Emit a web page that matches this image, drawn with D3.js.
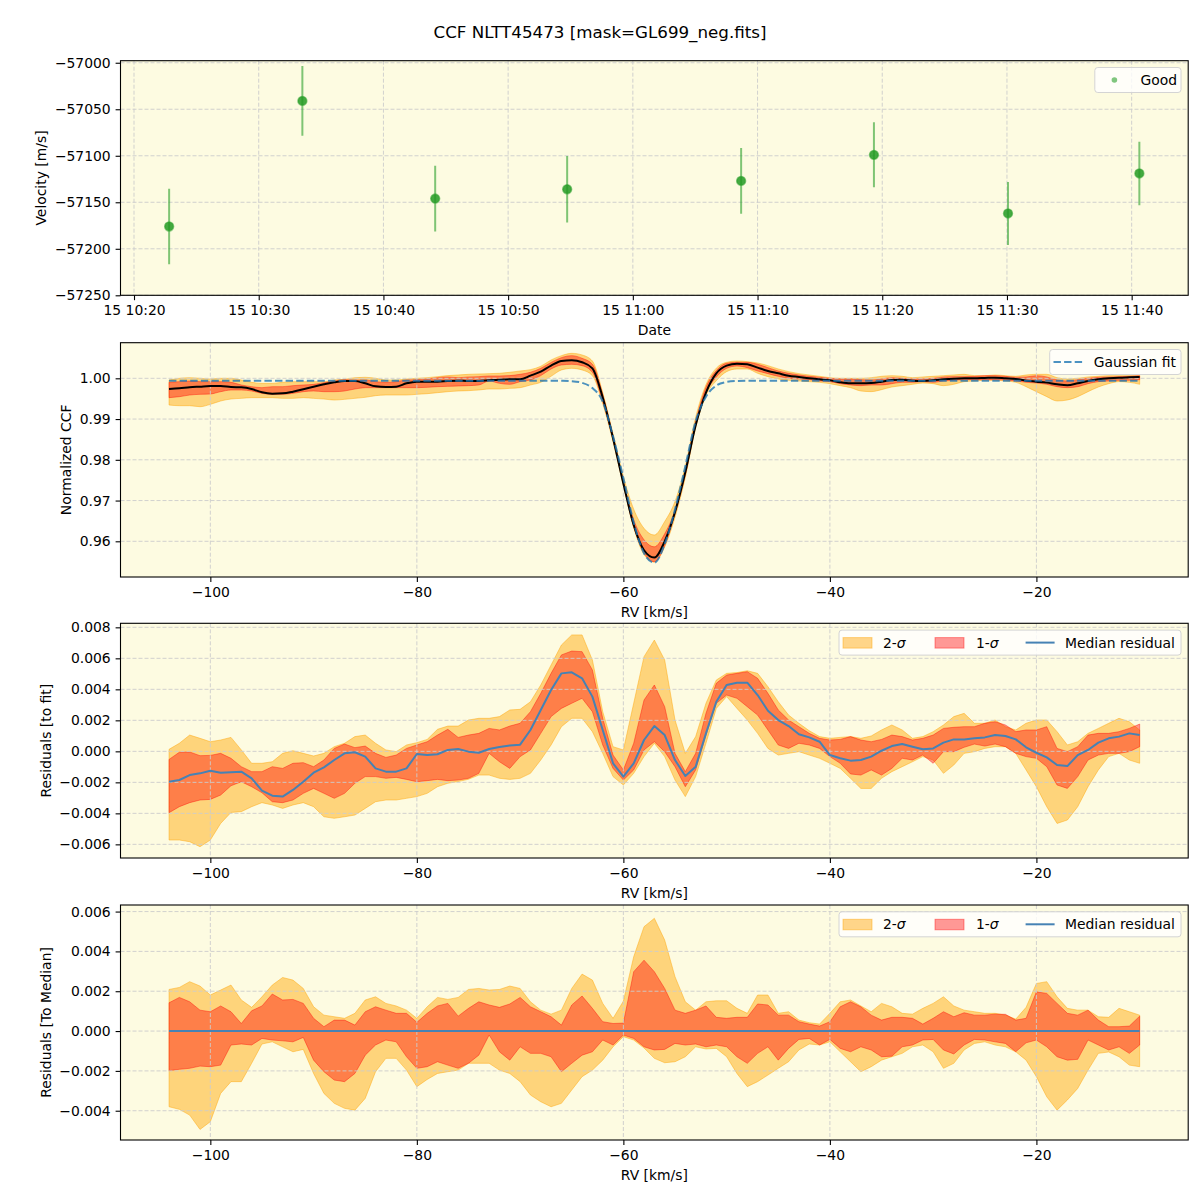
<!DOCTYPE html>
<html><head><meta charset="utf-8">
<script src="https://cdn.jsdelivr.net/npm/d3@7"></script>
<style>body{margin:0;background:#fff}svg{display:block;font-family:"DejaVu Sans",sans-serif}</style>
</head><body><svg id="chart" width="1200" height="1200"></svg>
<script>
// ---------------- DATA ----------------
const chartTitle = "CCF NLTT45473 [mask=GL699_neg.fits]";

// Panel 1: RV time series
const obsTimes = ["2024-05-15T10:22:49Z","2024-05-15T10:33:30Z","2024-05-15T10:44:09Z","2024-05-15T10:54:44Z",
                  "2024-05-15T11:08:41Z","2024-05-15T11:19:20Z","2024-05-15T11:30:05Z","2024-05-15T11:40:37Z"];
const obsVelocity = [-57176, -57041, -57146, -57136, -57127, -57099, -57162, -57119];
const obsError = [40.5, 37.5, 35.3, 35.7, 35.4, 34.9, 33.9, 34.1];
const timeTicks = ["2024-05-15T10:20:00Z","2024-05-15T10:30:00Z","2024-05-15T10:40:00Z","2024-05-15T10:50:00Z",
                   "2024-05-15T11:00:00Z","2024-05-15T11:10:00Z","2024-05-15T11:20:00Z","2024-05-15T11:30:00Z","2024-05-15T11:40:00Z"];
const timeDomain = ["2024-05-15T10:18:55Z","2024-05-15T11:44:32Z"];
const velTicks = [-57250,-57200,-57150,-57100,-57050,-57000];
const velDomain = [-57250, -56997.8];

// RV grid (km/s)
const rv = [-104,-103,-102,-101,-100,-99,-98,-97,-96,-95,-94,-93,-92,-91,-90,-89,-88,-87,-86,-85,
  -84,-83,-82,-81,-80,-79,-78,-77,-76,-75,-74,-73,-72,-71,-70,-69,-68,-67,-66,-65,
  -64,-63,-62,-61,-60,-59,-58,-57,-56,-55,-54,-53,-52,-51,-50,-49,-48,-47,-46,-45,
  -44,-43,-42,-41,-40,-39,-38,-37,-36,-35,-34,-33,-32,-31,-30,-29,-28,-27,-26,-25,
  -24,-23,-22,-21,-20,-19,-18,-17,-16,-15,-14,-13,-12,-11,-10];
const rvTicks = [-100,-80,-60,-40,-20];
const rvDomain = [-108.7, -5.3];

// Panel 2: normalized CCF
const ccfMedian = [0.99738,0.99754,0.99779,0.99795,0.99811,0.99811,0.99787,0.99779,0.99738,0.99656,
  0.99623,0.99631,0.99672,0.99730,0.99795,0.99852,0.99902,0.99934,0.99934,0.99877,
  0.99803,0.99787,0.99795,0.99877,0.99918,0.99918,0.99918,0.99934,0.99943,0.99934,
  0.99934,0.99951,0.99967,0.99975,0.99975,1.00066,1.00164,1.00310,1.00425,1.00442,
  1.00393,1.00245,0.99530,0.98530,0.97420,0.96400,0.95780,0.95600,0.96000,0.96720,
  0.97700,0.98850,0.99650,1.00120,1.00311,1.00360,1.00344,1.00262,1.00180,1.00123,
  1.00065,1.00033,1.00000,0.99975,0.99951,0.99902,0.99877,0.99877,0.99885,0.99918,
  0.99959,0.99967,0.99943,0.99935,0.99951,0.99975,0.99992,1.00000,1.00000,1.00008,
  1.00016,1.00000,0.99984,0.99943,0.99918,0.99894,0.99853,0.99828,0.99877,0.99935,
  0.99975,1.00000,1.00016,1.00025,1.00033];
const ccf1Hi = [0.99902,0.99918,0.99934,0.99918,0.99918,0.99918,0.99902,0.99836,0.99795,0.99770,
  0.99795,0.99795,0.99820,0.99836,0.99852,0.99893,0.99934,0.99967,0.99959,0.99959,
  0.99918,0.99902,0.99918,0.99959,0.99967,0.99984,1.00016,1.00033,1.00016,1.00033,
  1.00041,1.00057,1.00057,1.00066,1.00098,1.00148,1.00246,1.00390,1.00507,1.00556,
  1.00491,1.00344,0.99605,0.98583,0.97463,0.96529,0.96038,0.95865,0.96183,0.96763,
  0.97728,0.98936,0.99779,1.00190,1.00368,1.00393,1.00393,1.00344,1.00262,1.00180,
  1.00123,1.00082,1.00049,1.00025,1.00000,0.99984,0.99984,0.99967,0.99959,0.99984,
  1.00016,1.00000,0.99984,0.99984,1.00000,1.00033,1.00041,1.00041,1.00049,1.00065,
  1.00065,1.00049,1.00025,1.00033,1.00065,1.00033,0.99959,0.99935,0.99967,1.00000,
  1.00025,1.00033,1.00041,1.00049,1.00065];
const ccf1Lo = [0.99525,0.99549,0.99590,0.99607,0.99615,0.99672,0.99713,0.99713,0.99689,0.99631,
  0.99607,0.99607,0.99631,0.99672,0.99689,0.99672,0.99672,0.99689,0.99738,0.99770,
  0.99770,0.99770,0.99770,0.99770,0.99770,0.99779,0.99795,0.99803,0.99811,0.99820,
  0.99836,0.99934,0.99877,0.99852,0.99918,0.99959,1.00066,1.00230,1.00327,1.00344,
  1.00311,1.00147,0.99433,0.98497,0.97398,0.96357,0.95716,0.95499,0.95893,0.96677,
  0.97631,0.98829,0.99639,1.00030,1.00245,1.00303,1.00262,1.00180,1.00115,1.00049,
  1.00000,0.99984,0.99967,0.99935,0.99918,0.99869,0.99836,0.99820,0.99836,0.99836,
  0.99869,0.99902,0.99902,0.99918,0.99902,0.99935,0.99951,0.99967,0.99967,0.99967,
  0.99967,0.99959,0.99935,0.99902,0.99885,0.99853,0.99795,0.99771,0.99795,0.99869,
  0.99918,0.99935,0.99951,0.99951,0.99967];
const ccf2Hi = [0.99959,1.00000,1.00016,1.00000,0.99984,1.00000,1.00000,0.99959,0.99902,0.99877,
  0.99877,0.99902,0.99918,0.99918,0.99918,0.99918,0.99959,0.99975,1.00016,1.00025,
  1.00000,0.99959,0.99959,0.99984,1.00000,1.00016,1.00041,1.00066,1.00082,1.00098,
  1.00107,1.00115,1.00123,1.00148,1.00180,1.00213,1.00295,1.00450,1.00556,1.00613,
  1.00573,1.00425,0.99648,0.98637,0.97592,0.96787,0.96318,0.96155,0.96484,0.96978,
  0.97846,0.99044,0.99844,1.00250,1.00393,1.00425,1.00409,1.00376,1.00311,1.00229,
  1.00164,1.00115,1.00082,1.00049,1.00016,1.00000,1.00000,1.00000,1.00016,1.00049,
  1.00065,1.00049,1.00016,1.00033,1.00049,1.00065,1.00082,1.00098,1.00065,1.00065,
  1.00082,1.00065,1.00049,1.00082,1.00098,1.00098,1.00016,0.99984,1.00000,1.00033,
  1.00049,1.00065,1.00065,1.00065,1.00065];
const ccf2Lo = [0.99344,0.99328,0.99328,0.99303,0.99361,0.99443,0.99492,0.99508,0.99525,0.99525,
  0.99525,0.99508,0.99508,0.99525,0.99508,0.99492,0.99467,0.99484,0.99508,0.99533,
  0.99574,0.99590,0.99590,0.99590,0.99607,0.99623,0.99648,0.99672,0.99689,0.99697,
  0.99713,0.99738,0.99738,0.99754,0.99770,0.99836,0.99902,1.00050,1.00205,1.00245,
  1.00205,1.00065,0.99379,0.98444,0.97366,0.96335,0.95673,0.95489,0.95861,0.96591,
  0.97567,0.98786,0.99586,0.99940,1.00164,1.00229,1.00229,1.00123,1.00041,0.99984,
  0.99951,0.99935,0.99918,0.99902,0.99869,0.99820,0.99771,0.99689,0.99673,0.99722,
  0.99787,0.99820,0.99853,0.99885,0.99869,0.99820,0.99853,0.99918,0.99935,0.99951,
  0.99951,0.99935,0.99902,0.99795,0.99673,0.99550,0.99444,0.99468,0.99550,0.99673,
  0.99787,0.99869,0.99918,0.99902,0.99853];
const gaussFit = [0.99943,0.99943,0.99943,0.99943,0.99943,0.99943,0.99943,0.99943,0.99943,0.99943,
  0.99943,0.99943,0.99943,0.99943,0.99943,0.99943,0.99943,0.99943,0.99943,0.99943,
  0.99943,0.99943,0.99943,0.99943,0.99943,0.99943,0.99943,0.99943,0.99943,0.99943,
  0.99943,0.99943,0.99943,0.99943,0.99943,0.99943,0.99943,0.99943,0.99940,0.99930,
  0.99890,0.99760,0.99430,0.98575,0.97552,0.96464,0.95708,0.95476,0.95932,0.96782,
  0.97844,0.98945,0.99550,0.99820,0.99910,0.99935,0.99941,0.99943,0.99943,0.99943,
  0.99943,0.99943,0.99943,0.99943,0.99943,0.99943,0.99943,0.99943,0.99943,0.99943,
  0.99943,0.99943,0.99943,0.99943,0.99943,0.99943,0.99943,0.99943,0.99943,0.99943,
  0.99943,0.99943,0.99943,0.99943,0.99943,0.99943,0.99943,0.99943,0.99943,0.99943,
  0.99943,0.99943,0.99943,0.99943,0.99943];
const ccfTicks = [0.96,0.97,0.98,0.99,1.00];
const ccfDomain = [0.95124, 1.00874];

// Panel 3: residuals to fit
const resMedian = [-0.00196,-0.00185,-0.00153,-0.00142,-0.00125,-0.00138,-0.00135,-0.00131,-0.00174,-0.00254,
  -0.00286,-0.00292,-0.00249,-0.00196,-0.00138,-0.00103,-0.00056,-0.00013,-0.00006,-0.00034,
  -0.00110,-0.00131,-0.00131,-0.00110,-0.00017,-0.00024,-0.00019,0.00009,0.00015,-0.00002,
  -0.00009,0.00015,0.00028,0.00037,0.00043,0.00138,0.00267,0.00396,0.00503,0.00510,
  0.00471,0.00353,0.00138,-0.00077,-0.00163,-0.00077,0.00073,0.00163,0.00105,-0.00056,
  -0.00159,-0.00099,0.00116,0.00320,0.00428,0.00443,0.00443,0.00363,0.00262,0.00202,
  0.00163,0.00110,0.00090,0.00062,-0.00024,-0.00045,-0.00060,-0.00056,-0.00034,0.00004,
  0.00034,0.00047,0.00030,0.00013,0.00019,0.00056,0.00077,0.00077,0.00084,0.00090,
  0.00105,0.00099,0.00077,0.00026,-0.00009,-0.00039,-0.00088,-0.00095,-0.00024,0.00009,
  0.00056,0.00084,0.00095,0.00116,0.00105];
const res1Hi = [-0.00052,-0.00006,-0.00004,-0.00028,-0.00026,-0.00013,-0.00045,-0.00099,-0.00131,-0.00131,
  -0.00099,-0.00110,-0.00077,-0.00073,-0.00099,-0.00056,0.00019,0.00047,0.00024,0.00034,
  -0.00013,-0.00039,-0.00024,0.00019,0.00041,0.00062,0.00105,0.00142,0.00090,0.00105,
  0.00116,0.00148,0.00138,0.00163,0.00181,0.00256,0.00374,0.00503,0.00622,0.00647,
  0.00643,0.00525,0.00213,-0.00024,-0.00120,0.00052,0.00331,0.00428,0.00288,-0.00013,
  -0.00131,-0.00013,0.00245,0.00439,0.00492,0.00503,0.00514,0.00471,0.00374,0.00267,
  0.00202,0.00159,0.00116,0.00084,0.00073,0.00077,0.00095,0.00073,0.00062,0.00077,
  0.00105,0.00095,0.00073,0.00084,0.00105,0.00148,0.00155,0.00159,0.00159,0.00181,
  0.00191,0.00170,0.00127,0.00138,0.00138,0.00159,0.00019,-0.00002,0.00030,0.00105,
  0.00116,0.00116,0.00127,0.00148,0.00176];
const res1Lo = [-0.00396,-0.00357,-0.00331,-0.00314,-0.00310,-0.00282,-0.00222,-0.00196,-0.00228,-0.00267,
  -0.00325,-0.00331,-0.00314,-0.00271,-0.00239,-0.00271,-0.00303,-0.00271,-0.00206,-0.00163,
  -0.00163,-0.00174,-0.00168,-0.00181,-0.00196,-0.00189,-0.00181,-0.00189,-0.00185,-0.00174,
  -0.00142,-0.00013,-0.00067,-0.00110,-0.00034,0.00009,0.00116,0.00224,0.00277,0.00310,
  0.00342,0.00256,0.00041,-0.00110,-0.00185,-0.00120,0.00009,0.00062,-0.00002,-0.00099,
  -0.00228,-0.00120,0.00105,0.00310,0.00363,0.00342,0.00288,0.00234,0.00138,0.00041,
  0.00019,0.00052,0.00041,0.00019,-0.00034,-0.00077,-0.00146,-0.00153,-0.00120,-0.00153,
  -0.00110,-0.00045,-0.00056,-0.00024,-0.00077,-0.00002,-0.00002,0.00026,0.00047,0.00034,
  0.00047,0.00030,-0.00013,-0.00034,-0.00045,-0.00099,-0.00217,-0.00239,-0.00163,-0.00056,
  -0.00024,-0.00013,-0.00013,-0.00002,0.00030];
const res2Hi = [0.00013,0.00052,0.00105,0.00084,0.00062,0.00073,0.00090,0.00009,-0.00077,-0.00077,
  -0.00067,-0.00013,0.00004,-0.00013,-0.00030,-0.00013,0.00030,0.00052,0.00095,0.00105,
  0.00052,0.00009,-0.00002,0.00041,0.00056,0.00077,0.00142,0.00163,0.00163,0.00202,
  0.00213,0.00213,0.00224,0.00267,0.00271,0.00320,0.00428,0.00557,0.00686,0.00751,
  0.00751,0.00589,0.00256,0.00030,0.00009,0.00310,0.00611,0.00718,0.00589,0.00202,
  -0.00013,0.00095,0.00310,0.00460,0.00503,0.00508,0.00520,0.00503,0.00417,0.00320,
  0.00234,0.00181,0.00133,0.00095,0.00084,0.00090,0.00095,0.00084,0.00099,0.00138,
  0.00170,0.00138,0.00084,0.00095,0.00127,0.00170,0.00224,0.00245,0.00181,0.00181,
  0.00202,0.00159,0.00138,0.00181,0.00202,0.00202,0.00127,0.00041,0.00062,0.00116,
  0.00148,0.00181,0.00213,0.00191,0.00138];
const res2Lo = [-0.00572,-0.00572,-0.00583,-0.00615,-0.00572,-0.00465,-0.00394,-0.00389,-0.00357,-0.00331,
  -0.00346,-0.00368,-0.00346,-0.00331,-0.00357,-0.00422,-0.00432,-0.00422,-0.00411,-0.00368,
  -0.00325,-0.00314,-0.00314,-0.00303,-0.00292,-0.00271,-0.00228,-0.00206,-0.00195,-0.00180,
  -0.00153,-0.00153,-0.00174,-0.00181,-0.00174,-0.00142,-0.00056,0.00041,0.00159,0.00213,
  0.00213,0.00127,-0.00013,-0.00163,-0.00217,-0.00142,-0.00034,0.00052,-0.00034,-0.00185,
  -0.00292,-0.00163,0.00052,0.00277,0.00353,0.00277,0.00202,0.00116,0.00019,-0.00024,
  -0.00013,-0.00002,-0.00024,-0.00045,-0.00077,-0.00110,-0.00174,-0.00239,-0.00239,-0.00174,
  -0.00131,-0.00099,-0.00067,-0.00034,-0.00056,-0.00142,-0.00088,-0.00013,-0.00002,0.00019,
  0.00030,0.00030,-0.00013,-0.00120,-0.00228,-0.00357,-0.00465,-0.00443,-0.00357,-0.00228,
  -0.00120,-0.00034,-0.00013,-0.00056,-0.00077];
const resTicks = [-0.006,-0.004,-0.002,0,0.002,0.004,0.006,0.008];
const resDomain = [-0.00688, 0.00826];

// Panel 4: residuals to median
const medMedian = [0,0,0,0,0,0,0,0,0,0, 0,0,0,0,0,0,0,0,0,0, 0,0,0,0,0,0,0,0,0,0,
  0,0,0,0,0,0,0,0,0,0, 0,0,0,0,0,0,0,0,0,0, 0,0,0,0,0,0,0,0,0,0,
  0,0,0,0,0,0,0,0,0,0, 0,0,0,0,0,0,0,0,0,0, 0,0,0,0,0,0,0,0,0,0, 0,0,0,0,0];
const med1Hi = [0.00142,0.00169,0.00147,0.00105,0.00097,0.00126,0.00097,0.00038,0.00102,0.00126,
  0.00186,0.00156,0.00159,0.00139,0.00064,0.00022,0.00055,0.00055,0.00030,0.00097,
  0.00122,0.00105,0.00089,0.00089,0.00044,0.00089,0.00126,0.00139,0.00075,0.00114,
  0.00147,0.00131,0.00119,0.00136,0.00169,0.00122,0.00097,0.00072,0.00030,0.00131,
  0.00176,0.00114,0.00047,0.00038,0.00040,0.00298,0.00356,0.00298,0.00214,0.00105,
  0.00089,0.00105,0.00126,0.00069,0.00064,0.00069,0.00069,0.00136,0.00131,0.00080,
  0.00080,0.00047,0.00035,0.00025,0.00047,0.00122,0.00147,0.00122,0.00080,0.00055,
  0.00069,0.00069,0.00064,0.00035,0.00064,0.00097,0.00072,0.00092,0.00080,0.00080,
  0.00085,0.00084,0.00055,0.00064,0.00197,0.00189,0.00139,0.00089,0.00080,0.00105,
  0.00055,0.00022,0.00022,0.00025,0.00075];
const med1Lo = [-0.00199,-0.00192,-0.00187,-0.00176,-0.00179,-0.00171,-0.00070,-0.00065,-0.00070,-0.00037,
  -0.00045,-0.00049,-0.00054,-0.00032,-0.00146,-0.00204,-0.00246,-0.00254,-0.00213,-0.00121,
  -0.00070,-0.00045,-0.00054,-0.00129,-0.00187,-0.00179,-0.00154,-0.00171,-0.00187,-0.00162,
  -0.00121,-0.00020,-0.00104,-0.00146,-0.00079,-0.00112,-0.00112,-0.00129,-0.00204,-0.00162,
  -0.00121,-0.00104,-0.00045,-0.00070,-0.00020,-0.00037,-0.00079,-0.00095,-0.00092,-0.00062,
  -0.00070,-0.00065,-0.00079,-0.00070,-0.00079,-0.00129,-0.00162,-0.00112,-0.00079,-0.00146,
  -0.00087,-0.00042,-0.00037,-0.00070,-0.00042,-0.00087,-0.00104,-0.00079,-0.00095,-0.00129,
  -0.00126,-0.00079,-0.00070,-0.00045,-0.00042,-0.00095,-0.00115,-0.00070,-0.00042,-0.00045,
  -0.00054,-0.00062,-0.00104,-0.00059,-0.00045,-0.00079,-0.00129,-0.00146,-0.00142,-0.00045,
  -0.00070,-0.00095,-0.00079,-0.00112,-0.00070];
const med2Hi = [0.00209,0.00219,0.00248,0.00226,0.00181,0.00206,0.00231,0.00156,0.00119,0.00172,
  0.00231,0.00269,0.00256,0.00214,0.00122,0.00080,0.00072,0.00064,0.00089,0.00156,
  0.00172,0.00139,0.00126,0.00105,0.00064,0.00122,0.00169,0.00159,0.00169,0.00209,
  0.00214,0.00206,0.00209,0.00226,0.00214,0.00147,0.00105,0.00085,0.00105,0.00214,
  0.00286,0.00256,0.00139,0.00064,0.00150,0.00373,0.00524,0.00566,0.00457,0.00273,
  0.00147,0.00105,0.00147,0.00152,0.00152,0.00114,0.00089,0.00181,0.00181,0.00089,
  0.00097,0.00055,0.00042,0.00035,0.00089,0.00147,0.00156,0.00126,0.00097,0.00139,
  0.00122,0.00089,0.00085,0.00114,0.00139,0.00172,0.00126,0.00105,0.00097,0.00089,
  0.00089,0.00080,0.00060,0.00119,0.00239,0.00248,0.00172,0.00114,0.00105,0.00105,
  0.00072,0.00069,0.00114,0.00097,0.00080];
const med2Lo = [-0.00380,-0.00393,-0.00422,-0.00494,-0.00455,-0.00313,-0.00254,-0.00254,-0.00162,-0.00065,
  -0.00054,-0.00079,-0.00104,-0.00092,-0.00213,-0.00313,-0.00363,-0.00388,-0.00397,-0.00338,
  -0.00204,-0.00137,-0.00137,-0.00196,-0.00279,-0.00243,-0.00213,-0.00204,-0.00196,-0.00162,
  -0.00162,-0.00162,-0.00196,-0.00213,-0.00254,-0.00321,-0.00355,-0.00380,-0.00363,-0.00296,
  -0.00229,-0.00196,-0.00146,-0.00079,-0.00028,-0.00045,-0.00085,-0.00137,-0.00159,-0.00154,
  -0.00129,-0.00079,-0.00090,-0.00087,-0.00129,-0.00213,-0.00279,-0.00254,-0.00221,-0.00187,
  -0.00154,-0.00095,-0.00065,-0.00070,-0.00054,-0.00104,-0.00154,-0.00204,-0.00179,-0.00146,
  -0.00129,-0.00112,-0.00079,-0.00070,-0.00104,-0.00187,-0.00162,-0.00095,-0.00062,-0.00054,
  -0.00070,-0.00079,-0.00104,-0.00146,-0.00229,-0.00330,-0.00397,-0.00346,-0.00288,-0.00196,
  -0.00112,-0.00105,-0.00129,-0.00171,-0.00179];
const medTicks = [-0.004,-0.002,0,0.002,0.004,0.006];
const medDomain = [-0.00547, 0.00633];

// ---------------- LAYOUT / STYLE ----------------
const L = 120.5, R = 1188.2;
const FS = 13.9;
const BG = "#fdfbe1";
const panels = [{t:60.7,b:295.3},{t:342.7,b:577},{t:623.3,b:858},{t:905,b:1140}];
const C2 = "#ffa500", A2 = 0.45, C1 = "#ff0000", A1 = 0.4;
const BLUE = "#4682b4";

const svg = d3.select("#chart");
svg.append("rect").attr("width",1200).attr("height",1200).attr("fill","#fff");
svg.append("text").attr("x",600).attr("y",32).attr("text-anchor","middle")
  .attr("dominant-baseline","central").attr("font-size",16.7).attr("fill","#000").text(chartTitle);

function setupPanel(i, x, y, xTicks, yTicks, xFmt, yFmt, xLabel, yLabel, yLabelX) {
  const p = panels[i];
  const g = svg.append("g");
  g.append("rect").attr("x",L).attr("y",p.t).attr("width",R-L).attr("height",p.b-p.t).attr("fill",BG);
  const cid = "clip"+i;
  svg.append("clipPath").attr("id",cid).append("rect").attr("x",L).attr("y",p.t).attr("width",R-L).attr("height",p.b-p.t);
  const bands = g.append("g").attr("clip-path",`url(#${cid})`);
  const grid = g.append("g");
  const lines = g.append("g").attr("clip-path",`url(#${cid})`);
  const top = g.append("g");
  grid.selectAll(".gx").data(xTicks).join("line")
    .attr("x1",d=>x(d)).attr("x2",d=>x(d)).attr("y1",p.t).attr("y2",p.b)
    .attr("stroke","#cccccc").attr("stroke-width",0.9).attr("stroke-dasharray","4,2");
  grid.selectAll(".gy").data(yTicks).join("line")
    .attr("x1",L).attr("x2",R).attr("y1",d=>y(d)).attr("y2",d=>y(d))
    .attr("stroke","#cccccc").attr("stroke-width",0.9).attr("stroke-dasharray","4,2");
  top.append("rect").attr("x",L).attr("y",p.t).attr("width",R-L).attr("height",p.b-p.t)
    .attr("fill","none").attr("stroke","#000").attr("stroke-width",1.1);
  const ax = top.append("g").attr("transform",`translate(0,${p.b})`)
    .call(d3.axisBottom(x).tickValues(xTicks).tickFormat(xFmt).tickSize(4.9).tickPadding(4.9));
  const ay = top.append("g").attr("transform",`translate(${L},0)`)
    .call(d3.axisLeft(y).tickValues(yTicks).tickFormat(yFmt).tickSize(4.9).tickPadding(4.9));
  [ax, ay].forEach(a => {
    a.select(".domain").remove();
    a.selectAll("line").attr("stroke","#000").attr("stroke-width",1.1);
    a.selectAll("text").attr("font-size",FS).attr("font-family","DejaVu Sans, sans-serif").attr("fill","#000");
  });
  top.append("text").attr("x",(L+R)/2).attr("y",p.b+35).attr("text-anchor","middle")
    .attr("dominant-baseline","central").attr("font-size",FS).attr("fill","#000").text(xLabel);
  top.append("text").attr("transform",`translate(${yLabelX},${(p.t+p.b)/2}) rotate(-90)`)
    .attr("text-anchor","middle").attr("dominant-baseline","central").attr("font-size",FS).attr("fill","#000").text(yLabel);
  return {bands, lines, top, p};
}

function band(layer, x, y, lo, hi, color, alpha, curve) {
  const area = d3.area().x((d,i)=>x(rv[i])).y0((d,i)=>y(lo[i])).y1((d,i)=>y(hi[i])).curve(curve);
  layer.append("path").datum(rv).attr("d",area)
    .attr("fill",color).attr("fill-opacity",alpha)
    .attr("stroke",color).attr("stroke-opacity",alpha).attr("stroke-width",1);
}
function line(layer, x, y, vals, color, width, curve, extra) {
  const gen = d3.line().x((d,i)=>x(rv[i])).y((d,i)=>y(vals[i])).curve(curve);
  const pth = layer.append("path").datum(rv).attr("d",gen).attr("fill","none")
    .attr("stroke",color).attr("stroke-width",width).attr("stroke-linejoin","round");
  if (extra) extra(pth);
  return pth;
}
function legendBox(layer, p, left) {
  const top = p.t + 6.8, h = 25;
  layer.append("rect").attr("x",left).attr("y",top).attr("width",R-7.2-left).attr("height",h).attr("rx",3)
    .attr("fill","#fff").attr("fill-opacity",0.8).attr("stroke","#d4d4d4").attr("stroke-width",1);
  return top + h/2;
}
function sigmaText(layer, xPos, cy, num) {
  const t = layer.append("text").attr("x",xPos).attr("y",cy).attr("dominant-baseline","central")
    .attr("font-size",FS).attr("fill","#000");
  t.append("tspan").text(num + "-");
  t.append("tspan").attr("font-style","italic").text("σ");
}
function residualLegend(layer, p) {
  const cy = legendBox(layer, p, 839);
  layer.append("rect").attr("x",843).attr("y",cy-5).attr("width",29).attr("height",10.5)
    .attr("fill",C2).attr("fill-opacity",A2).attr("stroke",C2).attr("stroke-opacity",A2);
  sigmaText(layer, 883, cy, "2");
  layer.append("rect").attr("x",935).attr("y",cy-5).attr("width",29).attr("height",10.5)
    .attr("fill",C1).attr("fill-opacity",A1).attr("stroke",C1).attr("stroke-opacity",A1);
  sigmaText(layer, 976, cy, "1");
  layer.append("line").attr("x1",1025.6).attr("x2",1054.6).attr("y1",cy).attr("y2",cy)
    .attr("stroke",BLUE).attr("stroke-width",2);
  layer.append("text").attr("x",1065).attr("y",cy).attr("dominant-baseline","central")
    .attr("font-size",FS).attr("fill","#000").text("Median residual");
}

const xRV = d3.scaleLinear().domain(rvDomain).range([L,R]);
const fmtRV = d3.format("d");

// ---------- Panel 1 ----------
{
  const p = panels[0];
  const xT = d3.scaleUtc().domain(timeDomain.map(d=>new Date(d))).range([L,R]);
  const yV = d3.scaleLinear().domain(velDomain).range([p.b,p.t]);
  const P = setupPanel(0, xT, yV, timeTicks.map(d=>new Date(d)), velTicks,
    d3.utcFormat("%d %H:%M"), d3.format("d"), "Date", "Velocity [m/s]", 41);
  const pts = obsTimes.map((t,i)=>({t:new Date(t), v:obsVelocity[i], e:obsError[i]}));
  P.lines.selectAll(".eb").data(pts).join("line")
    .attr("x1",d=>xT(d.t)).attr("x2",d=>xT(d.t)).attr("y1",d=>yV(d.v-d.e)).attr("y2",d=>yV(d.v+d.e))
    .attr("stroke","#2ca02c").attr("stroke-opacity",0.6).attr("stroke-width",2);
  P.lines.selectAll(".mk").data(pts).join("circle")
    .attr("cx",d=>xT(d.t)).attr("cy",d=>yV(d.v)).attr("r",4.4)
    .attr("fill","#239a23").attr("fill-opacity",0.85).attr("stroke","#2ca02c").attr("stroke-opacity",0.55).attr("stroke-width",1.6);
  const cy = legendBox(P.top, p, 1094.8);
  P.top.append("circle").attr("cx",1114.4).attr("cy",cy).attr("r",2.8).attr("fill","#2ca02c").attr("fill-opacity",0.6);
  P.top.append("text").attr("x",1140.4).attr("y",cy).attr("dominant-baseline","central")
    .attr("font-size",FS).attr("fill","#000").text("Good");
}

// ---------- Panel 2 ----------
{
  const p = panels[1];
  const y = d3.scaleLinear().domain(ccfDomain).range([p.b,p.t]);
  const P = setupPanel(1, xRV, y, rvTicks, ccfTicks, fmtRV, d3.format(".2f"), "RV [km/s]", "Normalized CCF", 66);
  band(P.bands, xRV, y, ccf2Lo, ccf2Hi, C2, A2, d3.curveMonotoneX);
  band(P.bands, xRV, y, ccf1Lo, ccf1Hi, C1, A1, d3.curveMonotoneX);
  line(P.lines, xRV, y, ccfMedian, "#000", 2, d3.curveMonotoneX);
  line(P.lines, xRV, y, gaussFit, "#1f77b4", 2, d3.curveMonotoneX,
    s=>s.attr("stroke-opacity",0.8).attr("stroke-dasharray","7.4,3.2"));
  const cy = legendBox(P.top, p, 1049.7);
  P.top.append("line").attr("x1",1053.5).attr("x2",1083).attr("y1",cy).attr("y2",cy)
    .attr("stroke","#1f77b4").attr("stroke-opacity",0.8).attr("stroke-width",2).attr("stroke-dasharray","7.4,3.2");
  P.top.append("text").attr("x",1093.7).attr("y",cy).attr("dominant-baseline","central")
    .attr("font-size",FS).attr("fill","#000").text("Gaussian fit");
}

// ---------- Panel 3 ----------
{
  const p = panels[2];
  const y = d3.scaleLinear().domain(resDomain).range([p.b,p.t]);
  const P = setupPanel(2, xRV, y, rvTicks, resTicks, fmtRV, d3.format(".3f"), "RV [km/s]", "Residuals [to fit]", 46);
  band(P.bands, xRV, y, res2Lo, res2Hi, C2, A2, d3.curveLinear);
  band(P.bands, xRV, y, res1Lo, res1Hi, C1, A1, d3.curveLinear);
  line(P.lines, xRV, y, resMedian, BLUE, 2, d3.curveLinear);
  residualLegend(P.top, p);
}

// ---------- Panel 4 ----------
{
  const p = panels[3];
  const y = d3.scaleLinear().domain(medDomain).range([p.b,p.t]);
  const P = setupPanel(3, xRV, y, rvTicks, medTicks, fmtRV, d3.format(".3f"), "RV [km/s]", "Residuals [To Median]", 46);
  band(P.bands, xRV, y, med2Lo, med2Hi, C2, A2, d3.curveLinear);
  band(P.bands, xRV, y, med1Lo, med1Hi, C1, A1, d3.curveLinear);
  line(P.lines, xRV, y, medMedian, BLUE, 2, d3.curveLinear);
  residualLegend(P.top, p);
}
</script></body></html>
